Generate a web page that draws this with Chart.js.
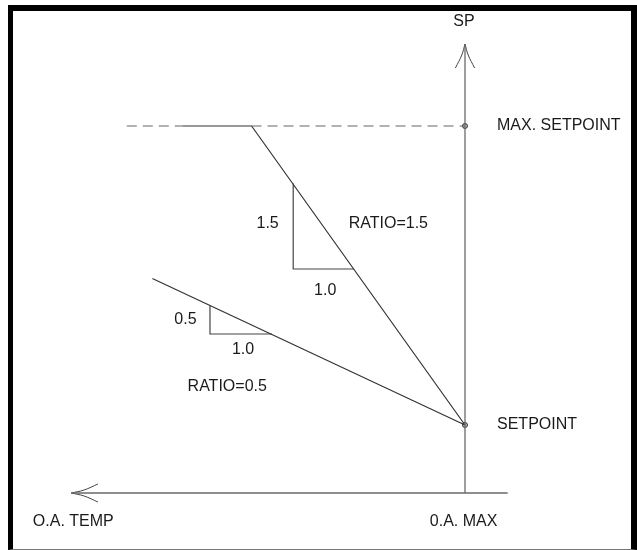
<!DOCTYPE html>
<html>
<head>
<meta charset="utf-8">
<script src="https://cdn.jsdelivr.net/npm/chart.js@4.4.0/dist/chart.umd.min.js"></script>
<style>
  html, body { margin: 0; padding: 0; background: #fff; }
  #wrap { position: relative; width: 637px; height: 550px; overflow: hidden; }
  #diagram { position: absolute; left: 0; top: 0; }
  #frame {
    position: absolute; left: 8px; top: 5px; width: 629px; height: 545px; box-sizing: border-box;
    border-left: 5px solid #000; border-top: 6px solid #000; border-right: 6px solid #000; border-bottom: 1px solid #777;
    pointer-events: none;
  }
</style>
</head>
<body>
<div id="wrap">
  <canvas id="diagram" width="637" height="550"></canvas>
  <div id="frame"></div>
</div>
<script>
/* Reset schedule diagram: x = O.A. temp below O.A. MAX, y = setpoint */
const SETPOINT = 6.8;
const MAX_SETPOINT = 36.7;

const axisSP = [{ x: 0, y: 0 }, { x: 0, y: 44.9 }];
const axisOA = [{ x: -4.0, y: 0 }, { x: 36.9, y: 0 }];
const arrowSPLeft = [{ x: 0.9, y: 42.5 }, { x: 0.3, y: 43.8 }, { x: 0, y: 44.9 }];
const arrowSPRight = [{ x: -0.9, y: 42.5 }, { x: -0.3, y: 43.8 }, { x: 0, y: 44.9 }];
const arrowOAUp = [{ x: 34.4, y: 0.9 }, { x: 35.7, y: 0.3 }, { x: 36.9, y: 0 }];
const arrowOADown = [{ x: 34.4, y: -0.9 }, { x: 35.7, y: -0.3 }, { x: 36.9, y: 0 }];

const maxDashLeft = [{ x: 31.7, y: MAX_SETPOINT }, { x: 26.5, y: MAX_SETPOINT }];
const maxDashRight = [{ x: 20, y: MAX_SETPOINT }, { x: 0, y: MAX_SETPOINT }];
const ratio15 = [{ x: 0, y: SETPOINT }, { x: 20, y: MAX_SETPOINT }, { x: 26.5, y: MAX_SETPOINT }];
const ratio05 = [{ x: 0, y: SETPOINT }, { x: 29.3, y: 21.45 }];
const tri15 = [{ x: 16.1, y: 30.95 }, { x: 16.1, y: 22.4 }, { x: 10.4, y: 22.4 }];
const tri05 = [{ x: 23.9, y: 18.75 }, { x: 23.9, y: 15.9 }, { x: 18.1, y: 15.9 }];
const markers = [{ x: 0, y: MAX_SETPOINT }, { x: 0, y: SETPOINT }];

const labels = [
  { text: 'SP', x: 0.1, y: 47.1, align: 'center' },
  { text: 'MAX. SETPOINT', x: -3.0, y: MAX_SETPOINT, align: 'left' },
  { text: 'SETPOINT', x: -3.0, y: SETPOINT, align: 'left' },
  { text: 'O.A. TEMP', x: 40.5, y: -2.9, align: 'left' },
  { text: '0.A. MAX', x: 3.3, y: -2.9, align: 'left' },
  { text: '1.5', x: 18.5, y: 26.9, align: 'center' },
  { text: 'RATIO=1.5', x: 10.9, y: 26.9, align: 'left' },
  { text: '1.0', x: 13.1, y: 20.2, align: 'center' },
  { text: '0.5', x: 26.2, y: 17.3, align: 'center' },
  { text: '1.0', x: 20.8, y: 14.3, align: 'center' },
  { text: 'RATIO=0.5', x: 26.0, y: 10.6, align: 'left' },
];

const line = (data, color, width, extra) => Object.assign({
  data, showLine: true, borderColor: color, borderWidth: width, pointRadius: 0, fill: false, tension: 0,
}, extra || {});

const textPlugin = {
  id: 'diagramText',
  afterDatasetsDraw(chart) {
    const { ctx, scales } = chart;
    ctx.save();
    ctx.fillStyle = '#1a1a1a';
    ctx.font = '16px "Liberation Sans", Arial, sans-serif';
    ctx.textBaseline = 'middle';
    labels.forEach((l) => {
      ctx.textAlign = l.align;
      ctx.fillText(l.text, scales.x.getPixelForValue(l.x), scales.y.getPixelForValue(l.y));
    });
    ctx.restore();
  },
};

new Chart(document.getElementById('diagram'), {
  type: 'scatter',
  data: {
    datasets: [
      line(axisSP, '#6a6a6a', 1.3),
      line(axisOA, '#6a6a6a', 1.3),
      line(arrowSPLeft, '#444', 1, { tension: 0.4 }),
      line(arrowSPRight, '#444', 1, { tension: 0.4 }),
      line(arrowOAUp, '#444', 1, { tension: 0.4 }),
      line(arrowOADown, '#444', 1, { tension: 0.4 }),
      line(maxDashLeft, '#666', 1.2, { borderDash: [10, 6] }),
      line(maxDashRight, '#666', 1.2, { borderDash: [10, 6] }),
      line(ratio15, '#333', 1.2),
      line(ratio05, '#333', 1.2),
      line(tri15, '#444', 1.2),
      line(tri05, '#444', 1.2),
      { data: markers, showLine: false, pointRadius: 2.5, pointBorderWidth: 1, pointBorderColor: '#333', pointBackgroundColor: '#bbb' },
    ],
  },
  options: {
    responsive: false,
    animation: false,
    events: [],
    layout: { padding: 0, autoPadding: false },
    plugins: { legend: { display: false }, tooltip: { enabled: false } },
    scales: {
      x: { type: 'linear', min: -16.12, max: 43.58, reverse: true, display: false },
      y: { type: 'linear', min: -5.7, max: 49.3, display: false },
    },
  },
  plugins: [textPlugin],
});
</script>
</body>
</html>
